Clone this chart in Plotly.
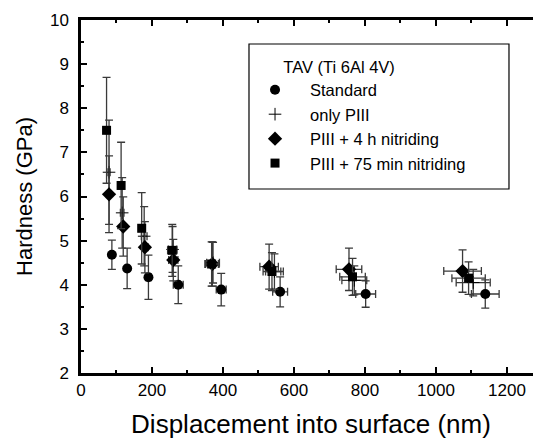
import plotly.graph_objects as go

# ---- data ----
std_x = [87, 130, 190, 274, 395, 561, 802, 1139]
std_y = [4.68, 4.37, 4.17, 4.00, 3.89, 3.84, 3.79, 3.79]
std_yerr = [0.33, 0.46, 0.50, 0.43, 0.37, 0.34, 0.30, 0.32]
std_xerr = [3, 5, 8, 14, 14, 21, 28, 39]

piii_x = [79, 116, 178, 258, 372, 545, 770, 1105]
piii_y = [6.55, 5.63, 5.10, 4.80, 4.50, 4.30, 4.10, 4.05]
piii_yerr = [1.18, 0.80, 0.67, 0.52, 0.46, 0.40, 0.33, 0.30]
piii_xerr = [3, 5, 8, 12, 18, 25, 35, 48]

n4h_x = [79, 119, 180, 260, 370, 530, 755, 1075]
n4h_y = [6.05, 5.32, 4.85, 4.56, 4.47, 4.41, 4.35, 4.31]
n4h_yerr = [0.87, 0.67, 0.58, 0.47, 0.50, 0.51, 0.48, 0.48]
n4h_xerr = [3, 5, 9, 13, 19, 26, 36, 53]

n75_x = [72, 113, 171, 257, 368, 538, 765, 1092]
n75_y = [7.50, 6.25, 5.28, 4.78, 4.47, 4.30, 4.18, 4.15]
n75_yerr = [1.20, 0.98, 0.81, 0.59, 0.50, 0.43, 0.42, 0.37]
n75_xerr = [3, 5, 8, 13, 19, 25, 36, 47]

names = ["Standard", "only PIII", "PIII + 4 h nitriding", "PIII + 75 min nitriding"]
legend_title = "TAV (Ti 6Al 4V)"
x_ticks = [0, 200, 400, 600, 800, 1000, 1200]
y_ticks = [2, 3, 4, 5, 6, 7, 8, 9, 10]

FONT = "Liberation Sans, Arial, sans-serif"
ERRC = "#3a3a3a"

series = [
    (std_x, std_y, std_xerr, std_yerr, dict(symbol="circle", size=10, color="black")),
    (piii_x, piii_y, piii_xerr, piii_yerr,
     dict(symbol="cross-thin-open", size=9, color="black", line=dict(width=1, color="black"))),
    (n4h_x, n4h_y, n4h_xerr, n4h_yerr, dict(symbol="diamond", size=11, color="black")),
    (n75_x, n75_y, n75_xerr, n75_yerr, dict(symbol="square", size=9, color="black")),
]

fig = go.Figure()
for name, (xs, ys, xe, ye, mk) in zip(names, series):
    fig.add_trace(go.Scatter(
        x=xs, y=ys, mode="markers", name=name, marker=mk,
        error_y=dict(type="data", array=ye, visible=True, color=ERRC, thickness=1.3, width=4),
        error_x=dict(type="data", array=xe, visible=True, color=ERRC, thickness=1.3, width=4),
    ))

axis_common = dict(
    showline=True, linecolor="black", linewidth=2.5, mirror="ticks",
    ticks="inside", ticklen=6, tickwidth=2, tickcolor="black",
    showgrid=False, zeroline=False, automargin=False,
    tickfont=dict(family=FONT, size=17, color="black"),
)

fig.update_xaxes(
    range=[0, 1296], tickvals=x_ticks,
    minor=dict(dtick=100, ticks="inside", ticklen=3, tickwidth=2, tickcolor="black"),
    ticklabelstandoff=0,
    title=dict(text="Displacement into surface (nm)\u00a0\u00a0",
               font=dict(family=FONT, size=26, color="black"), standoff=16),
    **axis_common,
)
fig.update_yaxes(
    range=[2, 10], tickvals=y_ticks,
    minor=dict(dtick=0.5, ticks="inside", ticklen=3, tickwidth=2, tickcolor="black"),
    ticklabelstandoff=6,
    title=dict(text="Hardness (GPa)", font=dict(family=FONT, size=22, color="black"), standoff=12),
    **axis_common,
)

# legend frame
fig.add_shape(type="rect", xref="paper", yref="paper",
              x0=0.3652, x1=0.9304, y0=0.5212, y1=0.932,
              line=dict(color="black", width=1.2), fillcolor="white", layer="below")

# page body has an 8px margin, so the figure is sized/offset to compensate
fig.update_layout(
    width=533, height=435,
    margin=dict(l=73, r=0, t=12, b=70),
    paper_bgcolor="white", plot_bgcolor="white",
    font=dict(family=FONT, size=17, color="black"),
    showlegend=True,
    legend=dict(
        x=0.3457, y=0.912, xanchor="left", yanchor="top",
        borderwidth=0, bgcolor="rgba(0,0,0,0)",
        title=dict(text="\u00a0" * 9 + legend_title, side="top", font=dict(family=FONT, size=16.5)),
        font=dict(family=FONT, size=16.5, color="black"),
        itemwidth=60, tracegroupgap=0,
    ),
)

fig.write_html("out.html")
